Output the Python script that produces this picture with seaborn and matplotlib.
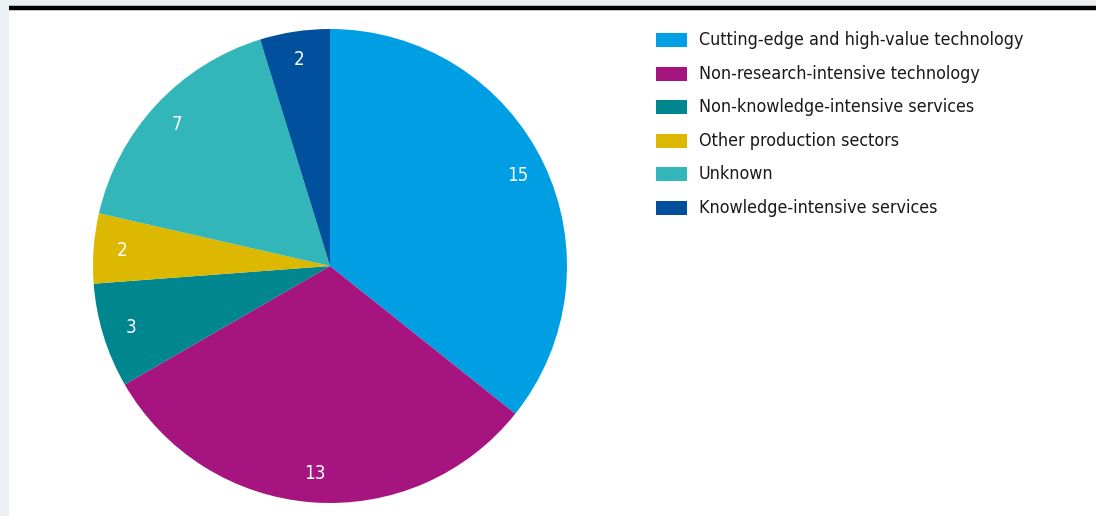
import matplotlib
matplotlib.use("Agg")
import matplotlib.pyplot as plt
import seaborn as sns
from matplotlib.patches import Rectangle

categories = [
    "Cutting-edge and high-value technology",
    "Non-research-intensive technology",
    "Non-knowledge-intensive services",
    "Other production sectors",
    "Unknown",
    "Knowledge-intensive services",
]
values = [15, 13, 3, 2, 7, 2]
colors = ["#009FE3", "#A6157F", "#00868F", "#DCB800", "#33B6BA", "#00509E"]

sns.set_theme(style="white")
plt.rcParams["font.family"] = ["DejaVu Sans"]
plt.rcParams["font.stretch"] = "condensed"

W, H = 1096, 516
fig = plt.figure(figsize=(W / 100, H / 100), dpi=100)
fig.patch.set_facecolor("#EBF0F5")

bg = fig.add_axes([0, 0, 1, 1], zorder=0)
bg.set_xlim(0, W)
bg.set_ylim(H, 0)
bg.axis("off")
bg.add_patch(Rectangle((9, 8), W - 9, H - 8, facecolor="white", edgecolor="none", zorder=0))
bg.plot([9, W], [8, 8], color="black", linewidth=3.2, solid_capstyle="butt", zorder=1)

y0, dy = 40, 33.6
for i, (c, lab) in enumerate(zip(colors, categories)):
    y = y0 + i * dy
    bg.add_patch(Rectangle((656, y - 7), 31, 14, facecolor=c, edgecolor="none", zorder=2))
    bg.text(699, y, lab, fontsize=12.9, color="#1a1a1a", va="center", ha="left", zorder=3)

cx, cy, r = 330, 266, 237
ax = fig.add_axes([(cx - r) / W, (H - cy - r) / H, 2 * r / W, 2 * r / H], zorder=2)
ax.patch.set_alpha(0)
wedges, texts = ax.pie(values, colors=colors, startangle=90, counterclock=False,
                       labels=[str(v) for v in values], labeldistance=0.88,
                       wedgeprops=dict(linewidth=0))
for t in texts:
    t.set_color("white")
    t.set_fontsize(13.5)
    t.set_ha("center")
    t.set_va("center")
ax.set_xlim(-1, 1)
ax.set_ylim(-1, 1)
ax.set_aspect("equal")
ax.axis("off")

fig.savefig("out.png", dpi=100, facecolor=fig.get_facecolor())
